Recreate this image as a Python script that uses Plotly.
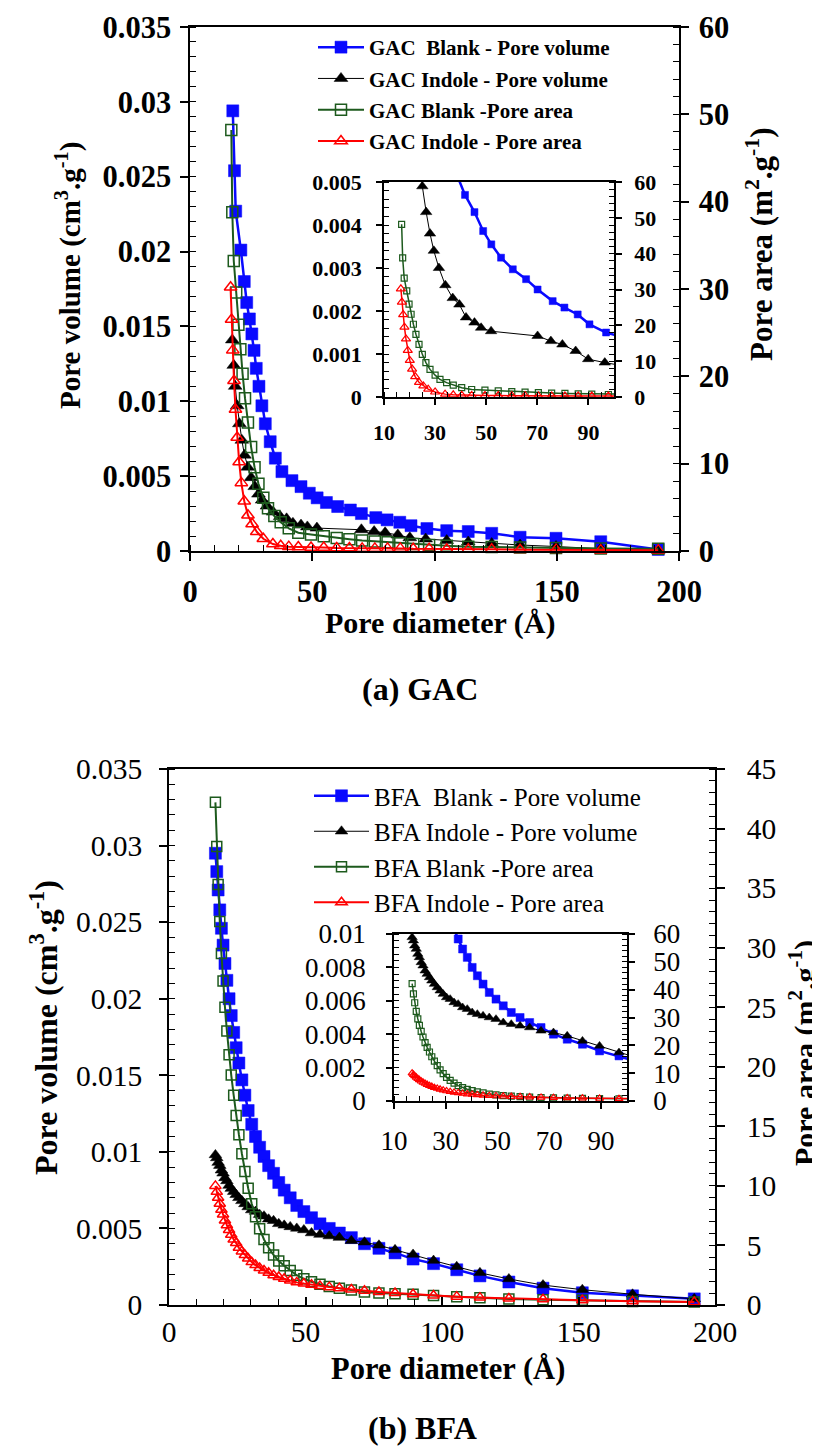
import plotly.graph_objects as go

# ---------------- DATA ----------------
# Panel (a) GAC
gac_blank_vol_x = [17.5, 18.2, 18.7, 20.8, 22.2, 23.2, 24.3, 25.3, 26.2, 27.1, 28.2, 29.4, 30.8, 32.8, 34.9, 37.6,
                   41.7, 45.4, 48.8, 52.0, 55.8, 60.4, 65.6, 70.1, 76.0, 80.6, 85.8, 90.4, 96.9, 105.0, 113.8,
                   123.4, 135.0, 149.7, 168.0, 191.5]
gac_blank_vol_y = [0.0294, 0.0254, 0.0227, 0.0201, 0.0180, 0.0166, 0.0155, 0.0145, 0.0134, 0.0122, 0.0110, 0.0097,
                   0.0085, 0.0073, 0.0062, 0.0053, 0.0047, 0.0043, 0.00386, 0.00355, 0.00324, 0.00297, 0.00274,
                   0.0025, 0.00223, 0.00208, 0.00192, 0.00169, 0.0015, 0.00136, 0.0013, 0.00118, 0.00092,
                   0.00085, 0.00062, 0.0001]

gac_indole_vol_x = [17.3, 17.9, 18.5, 19.3, 20.2, 21.2, 22.3, 23.6, 25.0, 26.5, 28.0, 29.5, 31.5, 34.0, 36.9, 39.5,
                    42.1, 45.4, 48.0, 51.9, 70.1, 75.3, 79.8, 85.0, 89.9, 96.4, 105.0, 113.8, 123.4, 135.0, 149.7,
                    168.0, 191.5]
gac_indole_vol_y = [0.0141, 0.0124, 0.0110, 0.0097, 0.0085, 0.0074, 0.0064, 0.0056, 0.0049, 0.0043, 0.0038, 0.0034,
                    0.0030, 0.0026, 0.0023, 0.00215, 0.00185, 0.00173, 0.00161, 0.00153, 0.00142, 0.0013, 0.00122,
                    0.00107, 0.00088, 0.0008, 0.0007, 0.0006, 0.0005, 0.0004, 0.0003, 0.00015, 0.00005]

gac_blank_area_x = [16.9, 17.3, 17.9, 18.9, 19.8, 20.6, 21.5, 22.5, 23.7, 25.0, 26.4, 28.0, 30.0, 31.9, 34.5, 37.1,
                    40.4, 44.3, 49.5, 54.7, 60.0, 65.2, 70.4, 75.6, 80.8, 86.0, 91.3, 97.8, 105.0, 113.8, 123.4,
                    135.0, 149.7, 168.0, 191.5]
gac_blank_area_y = [48.2, 38.8, 33.2, 29.6, 25.9, 23.1, 20.3, 17.5, 14.7, 11.9, 9.6, 7.7, 6.1, 4.9, 4.0, 3.3, 2.6,
                    2.1, 1.9, 1.7, 1.5, 1.35, 1.2, 1.1, 1.0, 0.9, 0.8, 0.7, 0.6, 0.5, 0.45, 0.4, 0.35, 0.3, 0.25]

gac_indole_area_x = [16.6, 17.0, 17.5, 18.0, 18.6, 19.3, 20.1, 21.0, 22.2, 23.7, 25.4, 27.3, 30.0, 33.9, 37.1, 40.4,
                     44.3, 49.5, 54.7, 60.0, 65.2, 70.4, 75.6, 80.8, 86.0, 91.3, 97.8, 105.0, 113.8, 123.4, 135.0,
                     149.7, 168.0, 191.5]
gac_indole_area_y = [30.2, 26.5, 23.0, 19.5, 16.2, 13.0, 10.2, 7.8, 5.7, 4.1, 3.1, 2.2, 1.4, 0.8, 0.6, 0.5, 0.45,
                     0.4, 0.4, 0.35, 0.35, 0.3, 0.3, 0.3, 0.3, 0.25, 0.25, 0.2, 0.2, 0.2, 0.15, 0.15, 0.1, 0.1]

# Panel (b) BFA
bfa_x = [17.0, 17.5, 18.0, 18.6, 19.2, 19.8, 20.5, 21.2, 22.0, 22.8, 23.7, 24.6, 25.6, 26.7, 27.8, 29.0, 30.3,
         31.7, 33.2, 34.8, 36.5, 38.3, 40.2, 42.2, 44.4, 46.8, 49.4, 52.2, 55.3, 58.7, 62.4, 66.8, 71.6, 76.9,
         82.8, 89.4, 96.9, 105.4, 113.9, 124.5, 137.0, 151.4, 169.8, 192.4]
bfa_blank_vol = [0.0295, 0.0283, 0.0271, 0.0258, 0.0246, 0.0235, 0.0223, 0.0212, 0.0200, 0.0189, 0.0178, 0.0168,
                 0.0158, 0.0147, 0.0137, 0.0127, 0.0118, 0.0110, 0.0103, 0.0097, 0.0091, 0.0086, 0.0080, 0.0075,
                 0.0070, 0.0065, 0.0061, 0.0057, 0.0053, 0.0050, 0.0047, 0.0044, 0.0040, 0.0037, 0.0034, 0.0030,
                 0.0027, 0.0023, 0.0019, 0.0015, 0.0011, 0.0008, 0.0006, 0.0004]
bfa_indole_vol = [0.0098, 0.0096, 0.0093, 0.0091, 0.0088, 0.0086, 0.0083, 0.0081, 0.0078, 0.0076, 0.0074, 0.0072,
                  0.0070, 0.0068, 0.0066, 0.0064, 0.0062, 0.0061, 0.0059, 0.0058, 0.0056, 0.0055, 0.0053, 0.0052,
                  0.0051, 0.0050, 0.0049, 0.0047, 0.0046, 0.0045, 0.0044, 0.0042, 0.0041, 0.0039, 0.0036, 0.0033,
                  0.0029, 0.0025, 0.0021, 0.0017, 0.0013, 0.0010, 0.0007, 0.0004]
bfa_blank_area = [42.2, 38.5, 35.3, 32.2, 29.5, 27.2, 25.0, 23.0, 21.0, 19.3, 17.6, 15.9, 14.3, 12.7, 11.2, 9.8,
                  8.5, 7.4, 6.4, 5.5, 4.8, 4.2, 3.7, 3.3, 2.9, 2.5, 2.2, 1.95, 1.75, 1.55, 1.4, 1.25, 1.1, 1.0,
                  0.95, 0.9, 0.8, 0.7, 0.6, 0.5, 0.45, 0.4, 0.3, 0.25]
bfa_indole_area = [10.0, 9.5, 9.0, 8.5, 8.0, 7.6, 7.1, 6.7, 6.3, 5.9, 5.5, 5.2, 4.8, 4.5, 4.2, 3.9, 3.6, 3.35,
                   3.1, 2.9, 2.7, 2.5, 2.35, 2.2, 2.05, 1.9, 1.8, 1.7, 1.6, 1.5, 1.4, 1.3, 1.2, 1.1, 1.0, 0.9, 0.8,
                   0.7, 0.62, 0.55, 0.48, 0.4, 0.32, 0.25]

# Tick labels
main_vol_ticks = [0, 0.005, 0.01, 0.015, 0.02, 0.025, 0.03, 0.035]
main_vol_text = ["0", "0.005", "0.01", "0.015", "0.02", "0.025", "0.03", "0.035"]
inset_a_vol_ticks = [0, 0.001, 0.002, 0.003, 0.004, 0.005]
inset_a_vol_text = ["0", "0.001", "0.002", "0.003", "0.004", "0.005"]
inset_b_vol_ticks = [0, 0.002, 0.004, 0.006, 0.008, 0.01]
inset_b_vol_text = ["0", "0.002", "0.004", "0.006", "0.008", "0.01"]
inset_x_ticks = [10, 30, 50, 70, 90]

names_a = ["GAC\u00a0 Blank - Pore volume", "GAC Indole - Pore volume", "GAC Blank -Pore area", "GAC Indole - Pore area"]
names_b = ["BFA\u00a0 Blank - Pore volume", "BFA Indole - Pore volume", "BFA Blank -Pore area", "BFA Indole - Pore area"]

# ---------------- STYLE ----------------
W, H = 820, 1449
SERIF = "Liberation Serif, Times New Roman, serif"
BLUE, BLACK, GREEN, RED = "#0a0aff", "#000000", "#1d5a1d", "#ff0000"

def fx(p):
    return p / W

def fy(p):
    return 1 - p / H

fig = go.Figure()


def add(x, y, xa, ya, name, color, symbol, size, lw, legend=None, show=False, clip=True, mlw=1.5, group=None):
    fig.add_trace(go.Scatter(
        x=x, y=y, xaxis=xa, yaxis=ya, mode="lines+markers", name=name,
        line=dict(color=color, width=lw),
        marker=dict(symbol=symbol, size=size, color=color, line=dict(color=color, width=mlw)),
        showlegend=show, legend=legend, cliponaxis=clip, legendgroup=group,
    ))

# panel (a) main
add(gac_blank_vol_x, gac_blank_vol_y, "x", "y", names_a[0], BLUE, "square", 12, 2.5, "legend", True, False, 0.5, "a1")
add(gac_indole_vol_x, gac_indole_vol_y, "x", "y", names_a[1], BLACK, "triangle-up", 12, 1, "legend", True, False, 0.5, "a2")
add(gac_blank_area_x, gac_blank_area_y, "x", "y2", names_a[2], GREEN, "square-open", 11, 2, "legend", True, False, 1.5, "a3")
add(gac_indole_area_x, gac_indole_area_y, "x", "y2", names_a[3], RED, "triangle-up-open", 11, 2, "legend", True, False, 1.5, "a4")
# panel (a) inset
add(gac_blank_vol_x, gac_blank_vol_y, "x2", "y3", names_a[0], BLUE, "square", 7, 2.5, mlw=0.5)
add(gac_indole_vol_x, gac_indole_vol_y, "x2", "y3", names_a[1], BLACK, "triangle-up", 10, 1, mlw=0.5)
add(gac_blank_area_x, gac_blank_area_y, "x2", "y4", names_a[2], GREEN, "square-open", 6, 1.5, mlw=1.2)
add(gac_indole_area_x, gac_indole_area_y, "x2", "y4", names_a[3], RED, "triangle-up-open", 8, 1.5, mlw=1.2)
# panel (b) main
add(bfa_x, bfa_blank_vol, "x3", "y5", names_b[0], BLUE, "square", 12, 2.5, "legend2", True, False, 0.5, "b1")
add(bfa_x, bfa_indole_vol, "x3", "y5", names_b[1], BLACK, "triangle-up", 11, 1, "legend2", True, False, 0.5, "b2")
add(bfa_x, bfa_blank_area, "x3", "y6", names_b[2], GREEN, "square-open", 10, 2, "legend2", True, False, 1.5, "b3")
add(bfa_x, bfa_indole_area, "x3", "y6", names_b[3], RED, "triangle-up-open", 10, 2, "legend2", True, False, 1.5, "b4")
# panel (b) inset
add(bfa_x, bfa_blank_vol, "x4", "y7", names_b[0], BLUE, "square", 8, 2.5, mlw=0.5)
add(bfa_x, bfa_indole_vol, "x4", "y7", names_b[1], BLACK, "triangle-up", 9, 1, mlw=0.5)
add(bfa_x, bfa_blank_area, "x4", "y8", names_b[2], GREEN, "square-open", 6, 1.5, mlw=1.2)
add(bfa_x, bfa_indole_area, "x4", "y8", names_b[3], RED, "triangle-up-open", 7, 1.5, mlw=1.2)


def axis(font_size, bold, **kw):
    d = dict(showgrid=False, zeroline=False, showline=True, linecolor="black", linewidth=1.5,
             ticks="outside", tickcolor="black", tickwidth=1.5, ticklen=8, automargin=False,
             ticklabeloverflow="allow",
             tickfont=dict(family=SERIF, size=font_size, color="black", weight="bold" if bold else "normal"))
    d.update(kw)
    return d


def twin(ticks="inside", **kw):
    # second set of major ticks on the other side, so that major ticks cross the axis line
    d = dict(showgrid=False, zeroline=False, showline=False, showticklabels=False, automargin=False,
             ticks=ticks, tickcolor="black", tickwidth=1.5, ticklen=8)
    d.update(kw)
    return d


minor = lambda dt, t0=0, ln=6: dict(dtick=dt, tick0=t0, ticks="inside", ticklen=ln, tickcolor="black", tickwidth=1.2)

A_L, A_R, A_T, A_B = 182, 671, 19, 543          # panel (a) main plot box (px)
AI_L, AI_R, AI_T, AI_B = 376, 606, 174, 389     # panel (a) inset box
B_L, B_R, B_T, B_B = 161, 707, 761, 1297        # panel (b) main plot box
BI_L, BI_R, BI_T, BI_B = 386, 619, 926, 1093    # panel (b) inset box

layout_axes = dict(
    # panel (a) main
    xaxis=axis(30.5, True, domain=[fx(A_L), fx(A_R)], range=[0, 200], anchor="y", dtick=50, tick0=0,
               minor=minor(10), mirror=True, ticklabelstandoff=5),
    yaxis=axis(30.5, True, domain=[fy(A_B), fy(A_T)], range=[0, 0.035], anchor="x",
               tickvals=main_vol_ticks, ticktext=main_vol_text, minor=minor(0.001), ticklabelstandoff=3),
    yaxis2=axis(30.5, True, range=[0, 60], overlaying="y", side="right", anchor="x", dtick=10, tick0=0,
                minor=minor(2), ticklabelstandoff=4),
    # panel (a) inset
    xaxis2=axis(22, True, domain=[fx(AI_L), fx(AI_R)], range=[10, 100], anchor="y3", tickvals=inset_x_ticks,
                minor=minor(5, 10, 5), mirror=True, ticklen=6, ticklabelstandoff=9),
    yaxis3=axis(22, True, domain=[fy(AI_B), fy(AI_T)], range=[0, 0.005], anchor="x2",
                tickvals=inset_a_vol_ticks, ticktext=inset_a_vol_text, minor=minor(0.0002, 0, 5), ticklen=6,
                ticklabelstandoff=10),
    yaxis4=axis(22, True, range=[0, 60], overlaying="y3", side="right", anchor="x2", dtick=10, tick0=0,
                minor=minor(2, 0, 5), ticklen=6, ticklabelstandoff=8),
    # panel (b) main (major ticks inside here; the outward part comes from the twin axis)
    xaxis3=axis(29.5, False, domain=[fx(B_L), fx(B_R)], range=[0, 200], anchor="y5", dtick=50, tick0=0,
                ticks="inside", minor=minor(10), mirror=True, ticklabelstandoff=0),
    yaxis5=axis(29.5, False, domain=[fy(B_B), fy(B_T)], range=[0, 0.035], anchor="x3",
                tickvals=main_vol_ticks, ticktext=main_vol_text, minor=minor(0.001), ticklabelstandoff=11),
    yaxis6=axis(29.5, False, range=[0, 45], overlaying="y5", side="right", anchor="x3", dtick=5, tick0=0,
                minor=minor(1), ticklabelstandoff=16),
    # panel (b) inset
    xaxis4=axis(27, False, domain=[fx(BI_L), fx(BI_R)], range=[10, 100], anchor="y7", tickvals=inset_x_ticks,
                minor=minor(5, 10, 5), mirror=True, ticklen=6, ticklabelstandoff=9),
    yaxis7=axis(27, False, domain=[fy(BI_B), fy(BI_T)], range=[0, 0.01], anchor="x4",
                tickvals=inset_b_vol_ticks, ticktext=inset_b_vol_text, minor=minor(0.0004, 0, 5), ticklen=6,
                ticklabelstandoff=15),
    yaxis8=axis(27, False, range=[0, 60], overlaying="y7", side="right", anchor="x4", dtick=10, tick0=0,
                minor=minor(2, 0, 5), ticklen=6, ticklabelstandoff=13),
    # crossing major ticks (twins)
    xaxis5=twin(overlaying="x", anchor="y", side="bottom", range=[0, 200], dtick=50, tick0=0),
    yaxis9=twin(overlaying="y", anchor="x", side="left", range=[0, 0.035], tickvals=main_vol_ticks),
    yaxis10=twin(overlaying="y", anchor="x", side="right", range=[0, 60], dtick=10, tick0=0),
    xaxis6=twin("outside", overlaying="x3", anchor="y5", side="bottom", range=[0, 200], dtick=50, tick0=0),
    yaxis11=twin(overlaying="y5", anchor="x3", side="left", range=[0, 0.035], tickvals=main_vol_ticks),
    yaxis12=twin(overlaying="y5", anchor="x3", side="right", range=[0, 45], dtick=5, tick0=0),
)


def ann(text, x, y, size, angle=0, bold=True):
    return dict(text=text, x=fx(x), y=fy(y), xref="paper", yref="paper", showarrow=False,
                xanchor="center", yanchor="middle", textangle=angle,
                font=dict(family=SERIF, size=size, color="black", weight="bold" if bold else "normal"))

annotations = [
    ann("Pore volume (cm<sup>3</sup>.g<sup>-1</sup>)", 60, 268, 29, -90),
    ann("Pore area (m<sup>2</sup>.g<sup>-1</sup>)", 752, 236, 31, -90),
    ann("Pore diameter (Å)", 432, 615, 30),
    ann("(a) GAC", 412, 681, 32),
    ann("Pore volume (cm<sup>3</sup>.g<sup>-1</sup>)", 36, 1020, 32, -90),
    ann("Pore area (m<sup>2</sup>.g<sup>-1</sup>)", 794, 1045, 30, -90),
    ann("Pore diameter (Å)", 440, 1361, 30.5),
    ann("(b) BFA", 414, 1420, 32),
]

fig.update_layout(
    template="none",
    width=W, height=H, margin=dict(l=0, r=0, t=0, b=0, pad=0, autoexpand=False),
    paper_bgcolor="white", plot_bgcolor="rgba(0,0,0,0)",
    showlegend=True,
    legend=dict(x=fx(305), y=fy(19), xanchor="left", yanchor="top", bgcolor="rgba(0,0,0,0)",
                itemwidth=46, tracegroupgap=1, traceorder="grouped", borderwidth=0,
                font=dict(family=SERIF, size=21, color="black", weight="bold")),
    legend2=dict(x=fx(301), y=fy(765), xanchor="left", yanchor="top", bgcolor="rgba(0,0,0,0)",
                 itemwidth=55, tracegroupgap=0, traceorder="grouped", borderwidth=0,
                 font=dict(family=SERIF, size=25, color="black")),
    annotations=annotations,
    **layout_axes,
)

fig.write_html("out.html")
